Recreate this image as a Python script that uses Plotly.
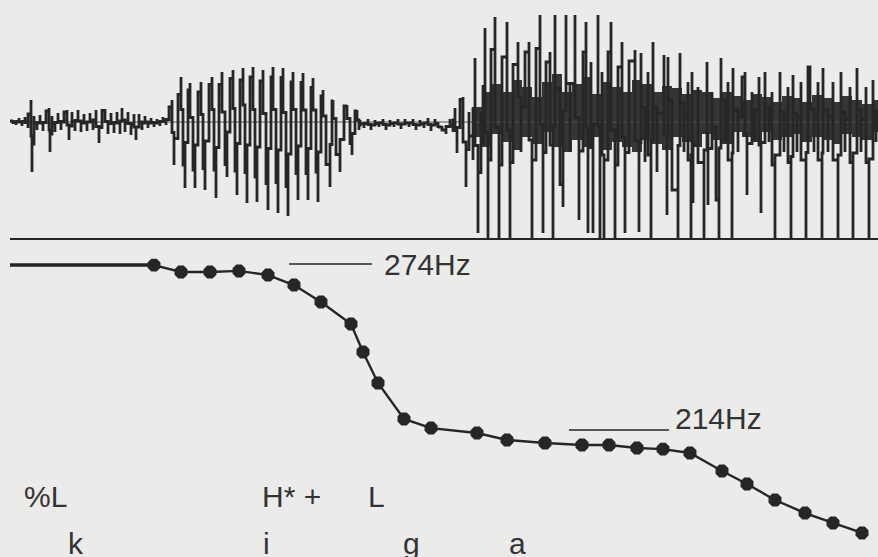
import plotly.graph_objects as go

# ---------------- data ----------------
# waveform: (time, amplitude) samples, region by region
noise_wave = [(10,0),(13,2),(16,-3),(19,4),(22,-4),(25,5),(28,-6),(31,22),(32,-50),(34,6),(37,-8),(40,7),
              (43,-9),(46,8),(49,14),(50,-30),(52,6),(55,-10),(58,9),(61,-8),(64,8),(67,12),(69,-18),(72,10),
              (75,-9),(78,12),(81,-10),(84,8),(87,-9),(90,9),(93,-8),(96,12),(99,-21),(102,10),(105,13),
              (108,-12),(111,9),(114,-11),(117,10),(120,-12),(122,14),(125,-10),(128,10),(131,-13),(134,8),
              (136,-18),(139,8),(142,-8),(145,6),(148,-6),(151,4),(154,-5),(157,3),(160,-4),(163,5),(166,-3),(169,8)]
vowel_i_wave = [(172,22),(174,-43),(178,10),(181,45),(183,-20),(185,-66),(188,25),(190,39),(193,-30),(195,-66),
                (198,20),(201,40),(203,-25),(205,-68),(209,30),(212,45),(214,-20),(216,-76),(219,25),(222,50),
                (225,-30),(227,-55),(230,35),(233,52),(235,-25),(237,-73),(240,30),(243,54),(245,-20),(247,-81),
                (250,35),(253,55),(255,-30),(257,-80),(260,30),(263,52),(266,-35),(268,-88),(271,35),(273,55),
                (276,-30),(278,-91),(281,35),(283,54),(286,-35),(288,-94),(291,30),(293,50),(296,-25),(298,-78),
                (301,30),(303,49),(306,-25),(308,-78),(311,25),(313,44),(316,-20),(318,-80),(321,20),(323,32),
                (326,-20),(330,-65),(332,20),(333,22),(336,-15),(340,-50),(344,15),(347,17),(350,-10),(352,-33),
                (355,10),(357,12),(359,-8)]
closure_wave = [(360,2),(364,-6),(368,3),(371,-8),(375,2),(379,-5),(383,3),(386,-8),(390,2),(394,-5),(398,3),
                (401,-7),(405,3),(409,-5),(413,3),(416,-8),(420,2),(424,-6),(428,4),(431,-9),(435,3),(438,-6),
                (442,-4),(446,-12),(450,3),(453,-10)]
vowel_a_wave = [(455,14),(457,-31),(460,20),(463,25),(466,-65),(469,10),(473,-38),(475,64),(478,-111),(481,10),
                (483,-23),(485,94),(488,-116),(491,40),(495,105),(499,-116),(502,30),(507,100),(510,-116),
                (513,35),(518,80),(521,-30),(525,60),(529,80),(532,-116),(536,40),(540,107),(543,-111),(546,50),
                (550,70),(553,-116),(555,107),(560,-40),(563,-85),(566,107),(570,-30),(575,107),(579,-98),
                (583,40),(586,100),(588,-111),(591,60),(593,-111),(598,107),(600,-116),(602,50),(604,-116),
                (608,40),(611,100),(615,-116),(618,30),(622,80),(625,-111),(629,50),(635,72),(639,-110),
                (641,69),(645,-40),(648,50),(651,-116),(653,80),(657,-50),(664,67),(667,-93),(668,65),(672,-20),
                (678,-116),(680,69),(684,-30),(688,40),(691,-116),(692,50),(693,-81),(698,35),(704,-116),(707,60),
                (708,-83),(712,30),(716,-40),(719,-116),(721,64),(725,-20),(728,40),(732,-116),(733,54),(738,-30),
                (742,40),(745,50),(747,-73),(752,30),(755,-20),(759,45),(761,-91),(765,50),(769,-20),(772,30),
                (775,-116),(780,50),(784,-30),(788,35),(791,-116),(793,47),(797,-30),(801,40),(806,-116),(808,55),
                (810,55),(814,-30),(818,40),(822,-116),(823,54),(828,-30),(833,40),(838,-116),(841,50),(845,-30),
                (850,35),(853,-116),(857,54),(861,-30),(866,35),(869,-116),(873,42),(876,-20),(878,10)]

# dense body of the vowel /a/ (upper / lower envelope)
body_t  = [472, 482, 492, 502, 512, 522, 532, 542, 552, 562, 572, 582, 592, 602, 612, 622, 632, 642, 652, 662,
           672, 682, 692, 702, 712, 722, 732, 742, 752, 762, 772, 782, 792, 802, 812, 822, 832, 842, 852, 862, 872, 878]
body_hi = [15, 30, 38, 30, 42, 35, 25, 40, 48, 30, 38, 45, 28, 40, 35, 30, 42, 38, 30, 36, 34, 28, 32, 30, 24,
           30, 26, 22, 28, 25, 20, 26, 24, 20, 27, 24, 20, 26, 22, 18, 22, 16]
body_lo = [-8, -15, -25, -12, -20, -28, -15, -22, -10, -25, -30, -18, -25, -15, -28, -20, -25, -30, -18, -22,
           -28, -15, -20, -25, -12, -18, -22, -10, -15, -20, -10, -18, -15, -12, -20, -15, -18, -22, -12, -15, -18, -10]

# F0 contour (Hz)
f0_flat_t  = [10, 154]
f0_flat_hz = [273.6, 273.6]
f0_t  = [154, 181, 210, 239, 268, 294, 321, 351, 363, 378, 404, 431, 477, 507, 545, 582, 609, 637, 663, 690,
         722, 747, 775, 805, 833, 862]
f0_hz = [273.6, 271.1, 271.1, 271.5, 270.0, 266.4, 260.3, 252.3, 242.2, 231.0, 218.0, 214.7, 212.9, 210.4,
         209.3, 208.6, 208.6, 207.5, 207.1, 205.7, 199.2, 194.5, 188.7, 184.0, 180.4, 176.8]

# reference levels
ref_hz      = [274, 214]
ref_start   = [289, 569]
ref_end     = [372, 669]
ref_labels  = ["274Hz", "214Hz"]
ref_label_t = [382, 673]
ref_label_hz = [274.0, 218.3]

# tone and segment labels
tone_labels = ["%L", "H* +", "L"]
tone_t      = [22, 260, 366]
seg_labels  = ["k", "i", "g", "a"]
seg_t       = [66, 261, 401, 507]
tone_hz = 189.8
seg_hz  = 172.9

# ---------------- figure ----------------
INK = "#262626"
BG = "#ebebea"
FONT = "Liberation Sans, Arial, sans-serif"

wave = noise_wave + vowel_i_wave + closure_wave + vowel_a_wave
wave_t = [p[0] for p in wave]
wave_a = [p[1] for p in wave]

fig = go.Figure()

# waveform body fill
fig.add_trace(go.Scatter(x=body_t + body_t[::-1], y=body_hi + body_lo[::-1], fill="toself",
                         fillcolor="#353535", line=dict(width=0, shape="hv"), mode="lines",
                         xaxis="x", yaxis="y", hoverinfo="skip", showlegend=False))
# zero line
fig.add_trace(go.Scatter(x=[10, 878], y=[0, 0], mode="lines", line=dict(color="#555", width=1),
                         xaxis="x", yaxis="y", hoverinfo="skip", showlegend=False))
# waveform
fig.add_trace(go.Scatter(x=wave_t, y=wave_a, mode="lines", line=dict(color=INK, width=2.8, shape="vhv"),
                         xaxis="x", yaxis="y", showlegend=False))

# F0 flat start
fig.add_trace(go.Scatter(x=f0_flat_t, y=f0_flat_hz, mode="lines", line=dict(color=INK, width=3.5),
                         xaxis="x2", yaxis="y2", showlegend=False))
# F0 points
fig.add_trace(go.Scatter(x=f0_t, y=f0_hz, mode="lines+markers", line=dict(color=INK, width=2.4),
                         marker=dict(color=INK, size=14, symbol="octagon"),
                         xaxis="x2", yaxis="y2", showlegend=False))
# reference lines
for h, s, e in zip(ref_hz, ref_start, ref_end):
    fig.add_trace(go.Scatter(x=[s, e], y=[h, h], mode="lines", line=dict(color=INK, width=1.6),
                             xaxis="x2", yaxis="y2", showlegend=False))

annotations = []
for txt, t, h in zip(ref_labels, ref_label_t, ref_label_hz):
    annotations.append(dict(x=t, y=h, xref="x2", yref="y2", text=txt, showarrow=False,
                            xanchor="left", yanchor="middle", font=dict(size=30, color="#333", family=FONT)))
for txt, t in zip(tone_labels, tone_t):
    annotations.append(dict(x=t, y=tone_hz, xref="x2", yref="y2", text=txt, showarrow=False,
                            xanchor="left", yanchor="middle", font=dict(size=30, color="#333", family=FONT)))
for txt, t in zip(seg_labels, seg_t):
    annotations.append(dict(x=t, y=seg_hz, xref="x2", yref="y2", text=txt, showarrow=False,
                            xanchor="left", yanchor="middle", font=dict(size=30, color="#333", family=FONT)))

split = (557 - 238) / 557
xd = [10 / 878, 1]
fig.update_layout(
    width=878, height=557,
    margin=dict(l=0, r=0, t=0, b=0),
    paper_bgcolor=BG, plot_bgcolor=BG,
    showlegend=False,
    xaxis=dict(domain=xd, range=[10, 878], showgrid=False, zeroline=False, showticklabels=False,
               showline=True, linecolor=INK, linewidth=1.6, ticks="", anchor="y"),
    yaxis=dict(domain=[split, 1], range=[-116, 122], showgrid=False, zeroline=False,
               showticklabels=False, showline=False, anchor="x"),
    xaxis2=dict(domain=xd, range=[10, 878], showgrid=False, zeroline=False, showticklabels=False,
                showline=False, anchor="y2"),
    yaxis2=dict(domain=[0, split], range=[168.1, 283.4], showgrid=False, zeroline=False,
                showticklabels=False, showline=False, anchor="x2"),
    annotations=annotations,
)

fig.write_html("out.html", config={"displayModeBar": False},
               post_script="document.body.style.margin='0';document.body.style.background='#ebebea';")
